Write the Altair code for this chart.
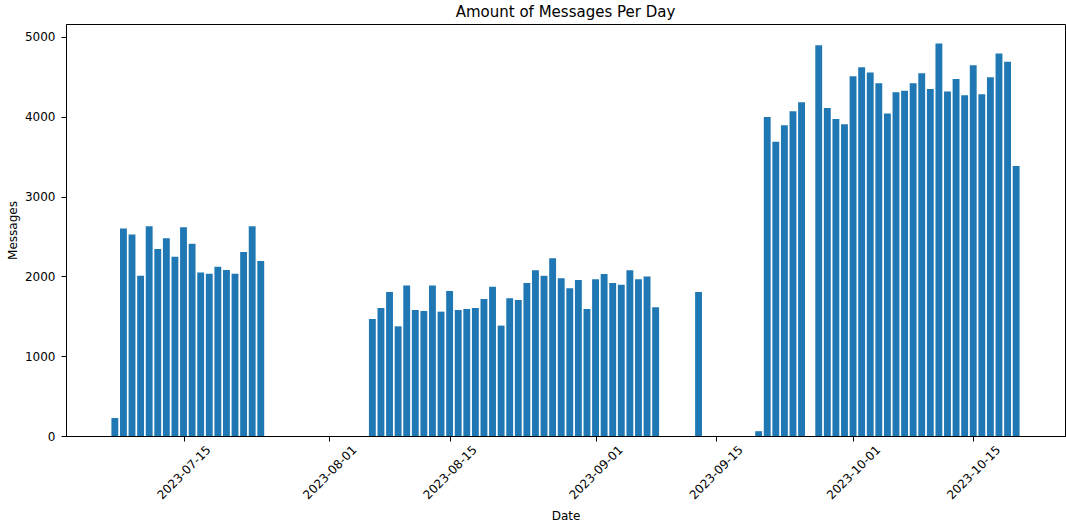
import altair as alt
import pandas as pd

dates = [
    "2023-07-07", "2023-07-08", "2023-07-09", "2023-07-10", "2023-07-11", "2023-07-12",
    "2023-07-13", "2023-07-14", "2023-07-15", "2023-07-16", "2023-07-17", "2023-07-18",
    "2023-07-19", "2023-07-20", "2023-07-21", "2023-07-22", "2023-07-23", "2023-07-24",
    "2023-08-06", "2023-08-07", "2023-08-08", "2023-08-09", "2023-08-10", "2023-08-11",
    "2023-08-12", "2023-08-13", "2023-08-14", "2023-08-15", "2023-08-16", "2023-08-17",
    "2023-08-18", "2023-08-19", "2023-08-20", "2023-08-21", "2023-08-22", "2023-08-23",
    "2023-08-24", "2023-08-25", "2023-08-26", "2023-08-27", "2023-08-28", "2023-08-29",
    "2023-08-30", "2023-08-31", "2023-09-01", "2023-09-02", "2023-09-03", "2023-09-04",
    "2023-09-05", "2023-09-06", "2023-09-07", "2023-09-08",
    "2023-09-13",
    "2023-09-20", "2023-09-21", "2023-09-22", "2023-09-23", "2023-09-24", "2023-09-25",
    "2023-09-27", "2023-09-28", "2023-09-29", "2023-09-30",
    "2023-10-01", "2023-10-02", "2023-10-03", "2023-10-04", "2023-10-05", "2023-10-06",
    "2023-10-07", "2023-10-08", "2023-10-09", "2023-10-10", "2023-10-11", "2023-10-12",
    "2023-10-13", "2023-10-14", "2023-10-15", "2023-10-16", "2023-10-17", "2023-10-18",
    "2023-10-19", "2023-10-20",
]

messages = [
    225, 2600, 2523, 2009, 2627, 2343,
    2477, 2247, 2615, 2410, 2047, 2034,
    2122, 2080, 2034, 2306, 2627, 2193,
    1466, 1604, 1805, 1374, 1884, 1579,
    1566, 1884, 1558, 1817, 1579, 1591,
    1604, 1717, 1871, 1383, 1725, 1704,
    1917, 2076, 2009, 2226, 1976, 1850,
    1955, 1591, 1963, 2030, 1917, 1896,
    2076, 1963, 1997, 1612,
    1805,
    60, 3997, 3688, 3893, 4069, 4181,
    4896, 4110, 3972, 3906,
    4507, 4620, 4553, 4419, 4039, 4307,
    4327, 4419, 4545, 4348, 4916, 4315,
    4474, 4269, 4645, 4282, 4495, 4791,
    4690, 3383,
]

x_ticks = ["2023-07-15", "2023-08-01", "2023-08-15", "2023-09-01",
           "2023-09-15", "2023-10-01", "2023-10-15"]
y_ticks = [0, 1000, 2000, 3000, 4000, 5000]

epoch = pd.Timestamp("1970-01-01")
ms = pd.Timedelta(milliseconds=1)


def to_ms(ts):
    return int((ts - epoch) // ms)


d = pd.to_datetime(dates)
half = pd.Timedelta(days=0.4)
df = pd.DataFrame({
    "date": dates,
    "start": [to_ms(t - half) for t in d],
    "end": [to_ms(t + half) for t in d],
    "messages": messages,
})

lo = d.min() - half
hi = d.max() + half
margin = (hi - lo) * 0.05
x_domain = [to_ms(lo - margin), to_ms(hi + margin)]
x_tick_ms = [to_ms(pd.Timestamp(t)) for t in x_ticks]
y_max = max(messages) * 1.05

chart = alt.Chart(df).mark_bar(color="#1f77b4").encode(
    x=alt.X(
        "start:T",
        title="Date",
        scale=alt.Scale(type="utc", domain=x_domain, nice=False),
        axis=alt.Axis(
            values=x_tick_ms, format="%Y-%m-%d",
            labelAngle=-45, labelAlign="center", labelBaseline="middle",
            labelPadding=31, tickSize=5, labelOverlap=False, labelBound=False,
            labelFlush=False, grid=False, titleY=79, titleBaseline="middle",
        ),
    ),
    x2="end:T",
    y=alt.Y(
        "messages:Q",
        title="Messages",
        scale=alt.Scale(domain=[0, y_max], nice=False, zero=True),
        axis=alt.Axis(
            values=y_ticks, format="d", grid=False, tickSize=5, labelPadding=6,
            titleX=-54, titleBaseline="middle",
        ),
    ),
    y2=alt.datum(0),
).properties(
    width=999,
    height=412,
    autosize=alt.AutoSizeParams(type="none"),
    padding={"left": 66, "top": 24, "right": 1, "bottom": 88},
    background="white",
    title=alt.TitleParams(
        "Amount of Messages Per Day", fontSize=15, fontWeight="normal",
        font="DejaVu Sans", color="black", offset=7, baseline="alphabetic",
        anchor="middle", frame="group", dy=15,
    ),
).configure_view(
    stroke="black", strokeWidth=1,
).configure_axis(
    labelFont="DejaVu Sans", titleFont="DejaVu Sans",
    labelFontSize=12, titleFontSize=12, titleFontWeight="normal",
    labelColor="black", titleColor="black",
    domainColor="black", tickColor="black", domainWidth=1, tickWidth=1,
)

chart.save("out.html", embed_options={"renderer": "svg", "actions": False})
